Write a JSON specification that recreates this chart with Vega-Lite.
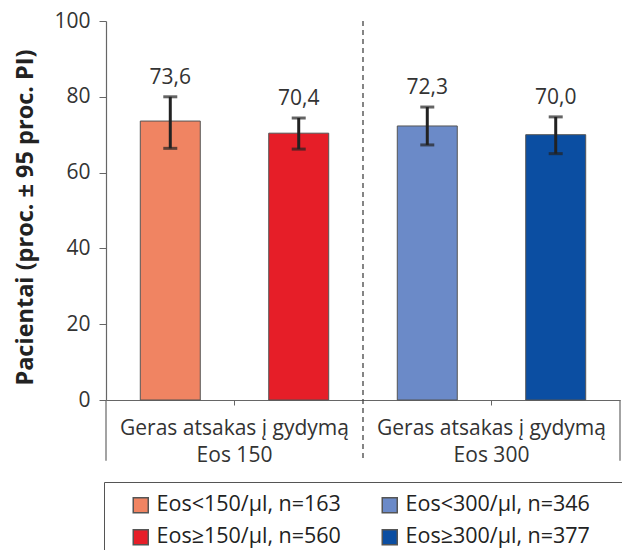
{
  "$schema": "https://vega.github.io/schema/vega-lite/v6.json",
  "width": 514,
  "height": 379,
  "autosize": {"type": "none"},
  "padding": {"left": 106, "top": 21, "right": 2, "bottom": 150},
  "background": "white",
  "config": {
    "font": "Open Sans",
    "view": {"stroke": null},
    "legend": {"strokeColor": "#555555"}
  },
  "data": {
    "values": [
      {"group": "Geras atsakas į gydymą|Eos 150", "sub": "a", "series": "Eos<150/µl, n=163", "value": 73.6, "label": "73,6", "lo": 66.4, "hi": 80.0},
      {"group": "Geras atsakas į gydymą|Eos 150", "sub": "b", "series": "Eos≥150/µl, n=560", "value": 70.4, "label": "70,4", "lo": 66.2, "hi": 74.4},
      {"group": "Geras atsakas į gydymą|Eos 300", "sub": "a", "series": "Eos<300/µl, n=346", "value": 72.3, "label": "72,3", "lo": 67.3, "hi": 77.3},
      {"group": "Geras atsakas į gydymą|Eos 300", "sub": "b", "series": "Eos≥300/µl, n=377", "value": 70.0, "label": "70,0", "lo": 65.0, "hi": 74.7}
    ]
  },
  "layer": [
    {
      "mark": {"type": "bar", "stroke": "#555555", "strokeWidth": 1},
      "encoding": {
        "x": {
          "field": "group",
          "type": "nominal",
          "scale": {"paddingInner": 0, "paddingOuter": 0},
          "axis": {
            "title": null,
            "labelAngle": 0,
            "labelExpr": "split(datum.label, '|')",
            "labelFontSize": 21,
            "labelColor": "#333333",
            "labelLineHeight": 27,
            "labelPadding": 12,
            "labelBaseline": "top",
            "tickSize": 5,
            "tickColor": "#666666",
            "domainColor": "#666666",
            "domainWidth": 1.2,
            "labelLimit": 300
          }
        },
        "xOffset": {
          "field": "sub",
          "type": "nominal",
          "scale": {"paddingInner": 0.533, "paddingOuter": 0.267}
        },
        "y": {
          "field": "value",
          "type": "quantitative",
          "scale": {"domain": [0, 100], "nice": false},
          "axis": {
            "title": "Pacientai (proc. ± 95 proc. PI)",
            "titleFontSize": 23.5,
            "titleFontWeight": "bold",
            "titleColor": "#222222",
            "titlePadding": 16,
            "titleY": 196,
            "values": [0, 20, 40, 60, 80, 100],
            "labelFontSize": 21,
            "labelColor": "#333333",
            "labelPadding": 9,
            "tickSize": 7,
            "tickColor": "#666666",
            "domainColor": "#666666",
            "domainWidth": 1.2,
            "grid": false
          }
        },
        "color": {
          "field": "series",
          "type": "nominal",
          "scale": {
            "domain": ["Eos<150/µl, n=163", "Eos<300/µl, n=346", "Eos≥150/µl, n=560", "Eos≥300/µl, n=377"],
            "range": ["#F08462", "#6B8AC8", "#E61E28", "#0B4EA2"]
          },
          "legend": {
            "title": "MM",
            "titleOrient": "right",
            "titleOpacity": 0,
            "titleFontSize": 13,
            "titlePadding": 0,
            "orient": "none",
            "legendX": -2,
            "legendY": 461,
            "columns": 2,
            "direction": "horizontal",
            "symbolType": "square",
            "symbolSize": 225,
            "symbolStrokeColor": "#555555",
            "symbolOffset": 14,
            "labelFontSize": 21.5,
            "labelColor": "#222222",
            "labelOffset": 5,
            "labelLimit": 400,
            "columnPadding": 24,
            "rowPadding": 9.5,
            "padding": 12
          }
        }
      }
    },
    {
      "mark": {"type": "rule", "color": "#222222", "strokeWidth": 3},
      "encoding": {
        "x": {"field": "group", "type": "nominal"},
        "xOffset": {"field": "sub", "type": "nominal"},
        "y": {"field": "lo", "type": "quantitative"},
        "y2": {"field": "hi"}
      }
    },
    {
      "mark": {"type": "tick", "color": "#222222", "thickness": 3, "size": 14, "orient": "horizontal"},
      "encoding": {
        "x": {"field": "group", "type": "nominal"},
        "xOffset": {"field": "sub", "type": "nominal"},
        "y": {"field": "lo", "type": "quantitative"}
      }
    },
    {
      "mark": {"type": "tick", "color": "#222222", "thickness": 3, "size": 14, "orient": "horizontal"},
      "encoding": {
        "x": {"field": "group", "type": "nominal"},
        "xOffset": {"field": "sub", "type": "nominal"},
        "y": {"field": "hi", "type": "quantitative"}
      }
    },
    {
      "mark": {"type": "text", "fontSize": 21, "color": "#333333", "baseline": "middle", "dy": -19},
      "encoding": {
        "x": {"field": "group", "type": "nominal"},
        "xOffset": {"field": "sub", "type": "nominal"},
        "y": {"field": "hi", "type": "quantitative"},
        "text": {"field": "label", "type": "nominal"}
      }
    },
    {
      "transform": [{"filter": "datum.series === 'Eos<300/µl, n=346'"}],
      "mark": {"type": "rule", "color": "#444444", "strokeWidth": 1.3, "strokeDash": [5, 4]},
      "encoding": {
        "x": {"field": "group", "type": "nominal", "bandPosition": 0},
        "y": {"datum": 100},
        "y2": {"datum": -16}
      }
    },
    {
      "transform": [{"filter": "datum.series === 'Eos<150/µl, n=163'"}],
      "mark": {"type": "rule", "color": "#666666", "strokeWidth": 1.2},
      "encoding": {
        "x": {"field": "group", "type": "nominal", "bandPosition": 0},
        "y": {"datum": 0},
        "y2": {"datum": -16}
      }
    },
    {
      "transform": [{"filter": "datum.series === 'Eos<300/µl, n=346'"}],
      "mark": {"type": "rule", "color": "#666666", "strokeWidth": 1.2},
      "encoding": {
        "x": {"field": "group", "type": "nominal", "bandPosition": 1},
        "y": {"datum": 0},
        "y2": {"datum": -16}
      }
    }
  ]
}
